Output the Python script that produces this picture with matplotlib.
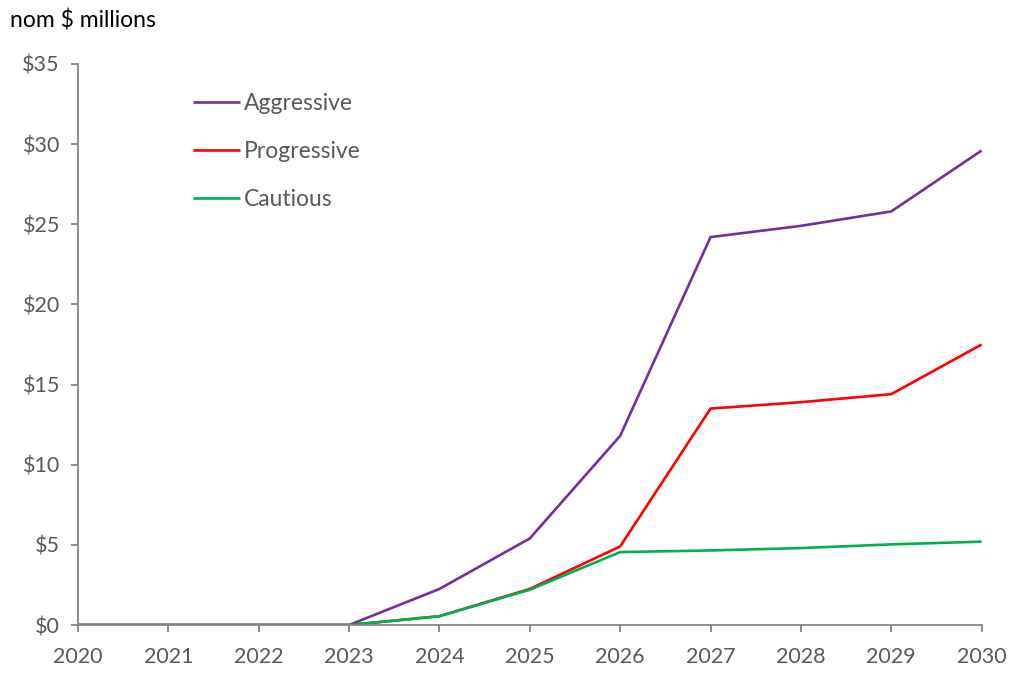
import matplotlib
matplotlib.use("Agg")
from matplotlib import pyplot as plt

# data (nom $ millions)
years = [2020, 2021, 2022, 2023, 2024, 2025, 2026, 2027, 2028, 2029, 2030]
aggressive = [0, 0, 0, 0, 2.25, 5.4, 11.8, 24.2, 24.9, 25.8, 29.6]
progressive = [0, 0, 0, 0, 0.55, 2.25, 4.9, 13.5, 13.9, 14.4, 17.5]
cautious = [0, 0, 0, 0, 0.55, 2.2, 4.55, 4.65, 4.8, 5.03, 5.2]

y_ticks = [0, 5, 10, 15, 20, 25, 30, 35]
y_labels = ['$' + str(v) for v in y_ticks]

plt.rcParams['font.family'] = ['Lato', 'DejaVu Sans']
grey = '#595959'
axis_grey = '#868686'
tick_fs = 15.5
text_fs = 16.5

fig = plt.figure(figsize=(10.12, 6.73), dpi=100)
ax = fig.add_axes([0.077, 0.0713, 0.893, 0.8337])

ax.plot(years, aggressive, color='#7030A0', linewidth=1.9, label='Aggressive', solid_capstyle='butt')
ax.plot(years, progressive, color='#FF0000', linewidth=1.9, label='Progressive', solid_capstyle='butt')
ax.plot(years, cautious, color='#00B050', linewidth=1.9, label='Cautious', solid_capstyle='butt')

ax.set_xlim(2020, 2030)
ax.set_ylim(0, 35)
ax.set_xticks(years)
ax.set_xticklabels([str(y) for y in years])
ax.set_yticks(y_ticks)
ax.set_yticklabels(y_labels)

for side in ['top', 'right']:
    ax.spines[side].set_visible(False)
for side in ['left', 'bottom']:
    ax.spines[side].set_color(axis_grey)
    ax.spines[side].set_linewidth(1.3)

ax.tick_params(axis='both', colors=axis_grey, labelcolor=grey, labelsize=tick_fs,
               length=5, width=1.3, direction='out')
ax.tick_params(axis='y', pad=8)
ax.tick_params(axis='x', pad=11)

leg = ax.legend(loc='upper left', bbox_to_anchor=(0.104, 0.985), frameon=False,
                fontsize=text_fs, handlelength=2.05, handletextpad=0.18, labelspacing=1.18)
for t in leg.get_texts():
    t.set_color(grey)

fig.text(0.01, 0.97, 'nom $ millions', fontsize=text_fs, color='black', va='center', ha='left')

fig.savefig('out.png', dpi=100)
